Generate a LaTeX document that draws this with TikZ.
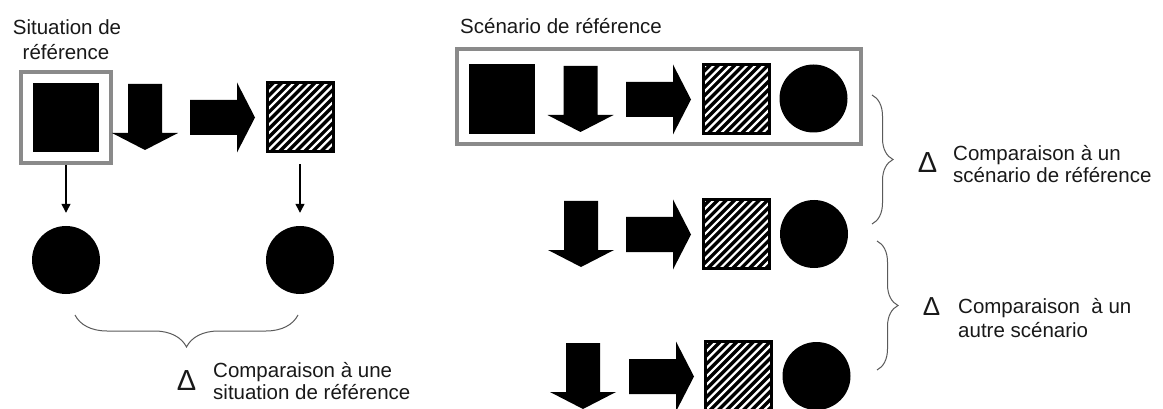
\documentclass[tikz,border=0pt]{standalone}
\usepackage{fontspec}
\setmainfont{Liberation Sans}
\usetikzlibrary{decorations.pathreplacing,arrows.meta}
\definecolor{framegray}{RGB}{138,138,138}
\definecolor{txt}{RGB}{25,25,25}
\definecolor{bracegray}{RGB}{90,90,90}
\tikzset{
  frame/.style={rectangle, draw=framegray, line width=4pt, inner sep=0pt},
  blksq/.style={rectangle, fill=black, inner sep=0pt, minimum width=66pt, minimum height=69pt},
  hatchsq/.style={rectangle, draw=black, line width=3pt, fill=black, inner sep=0pt,
    minimum width=66pt, minimum height=69pt,
    path picture={\foreach \k in {-11,...,11}
      \draw[white, line width=2.2pt] ([xshift=\k*8.3pt]path picture bounding box.south west) -- ++(95pt,95pt);}},
  dot/.style={circle, fill=black, inner sep=0pt, minimum size=68pt},
  thinarr/.style={line width=1.3pt, -{Triangle[length=9pt,width=9pt]}},
  bracestyle/.style={draw=bracegray, line width=1pt, decorate},
  lbl/.style={font=\fontsize{20.5}{24}\selectfont, inner sep=0pt, text=txt},
  deltalbl/.style={font=\fontsize{29}{29}\selectfont, inner sep=0pt, text=txt},
  downarr/.pic={\fill[black] (-17,0) -- (17,0) -- (17,49) -- (33,49) -- (0,66) -- (-33,49) -- (-17,49) -- cycle;},
  rightarr/.pic={\fill[black] (0,-17.5) -- (47,-17.5) -- (47,-35) -- (65,0) -- (47,35) -- (47,17.5) -- (0,17.5) -- cycle;},
}
\begin{document}
\begin{tikzpicture}[x=1pt,y=-1pt]
\useasboundingbox (0,0) rectangle (1163,409);
\clip (0,0) rectangle (1163,409);
\fill[white] (0,0) rectangle (1163,409);

% ---------- left part ----------
\node[lbl, anchor=base] (t1a) at (67,35) {Situation de};
\node[lbl, anchor=base] (t1b) at (66,60) {référence};

\node[frame, minimum width=90pt, minimum height=91pt] (lframe) at (66,117.5) {};
\node[blksq] (lsq) at (66,117.5) {};
\pic at (145,84) {downarr};
\pic at (190,117.5) {rightarr};
\node[hatchsq] (lh) at (300,117) {};

\node[dot] (lc1) at (66,260) {};
\node[dot] (lc2) at (300,260) {};

\draw[thinarr] (lframe.south -| lc1.north) -- ([yshift=13pt]lc1.north);
\draw[thinarr] ([yshift=-11.5pt]lh.south) -- ([yshift=13pt]lc2.north);

\coordinate (lb1) at (298,315);
\coordinate (lb2) at (75,315);
\draw[bracestyle, decoration={brace, amplitude=32pt}] (lb1) -- (lb2);

\node[deltalbl] (d1) at (186.5,380.5) {Δ};
\node[lbl, anchor=base west] (c1a) at (213,377) {Comparaison à une};
\node[lbl, anchor=base west] (c1b) at (213,399) {situation de référence};

% ---------- right part ----------
\node[lbl, anchor=base west] (t2) at (460,34) {Scénario de référence};
\node[frame, minimum width=404pt, minimum height=95pt] (rframe) at (659,96.5) {};

% row 1
\node[blksq, minimum height=70pt] (rsq) at (502,99) {};
\pic at (580.5,66) {downarr};
\pic at (626,99.5) {rightarr};
\node[hatchsq] (rh1) at (736.5,99.5) {};
\node[dot] (rc1) at (813.5,98.5) {};

% row 2
\pic at (581,201) {downarr};
\pic at (626,234.5) {rightarr};
\node[hatchsq] (rh2) at (736.5,234) {};
\node[dot] (rc2) at (814,234) {};

% row 3
\pic at (583,343) {downarr};
\pic at (629,376.5) {rightarr};
\node[hatchsq] (rh3) at (738.5,376) {};
\node[dot] (rc3) at (816.5,376) {};

% braces
\coordinate (rb1a) at (872,95);
\coordinate (rb1b) at (872,224);
\draw[bracestyle, decoration={brace, amplitude=21pt}] (rb1a) -- (rb1b);
\coordinate (rb2a) at (877,241);
\coordinate (rb2b) at (877,370);
\draw[bracestyle, decoration={brace, amplitude=21pt}] (rb2a) -- (rb2b);

\node[deltalbl] (d2) at (927.5,162.5) {Δ};
\node[lbl, anchor=base west] (c2a) at (953,161) {Comparaison à un};
\node[lbl, anchor=base west] (c2b) at (953,183) {scénario de référence};

\node[deltalbl, font=\fontsize{26}{26}\selectfont] (d3) at (931.5,306.5) {Δ};
\node[lbl, anchor=base west] (c3a) at (958,313) {Comparaison\ \ à un};
\node[lbl, anchor=base west] (c3b) at (958,337) {autre scénario};
\end{tikzpicture}
\end{document}
